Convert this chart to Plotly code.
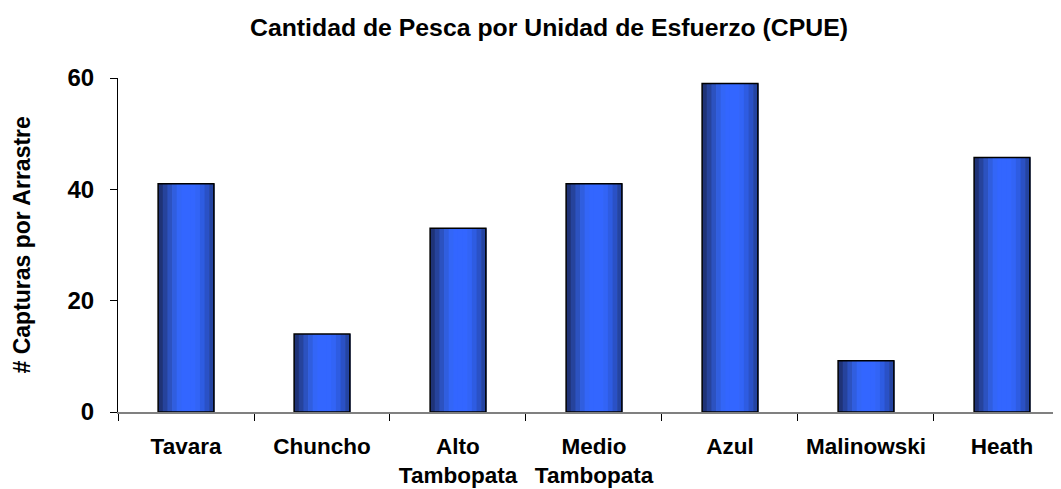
import plotly.graph_objects as go

categories = ["Tavara", "Chuncho", "Alto<br>Tambopata", "Medio<br>Tambopata", "Azul", "Malinowski", "Heath"]
cpue = [41, 14, 33, 41, 59, 9.2, 45.7]
y_ticks = [0, 20, 40, 60]

title_text = "Cantidad de Pesca por Unidad de Esfuerzo (CPUE)"
y_title = "# Capturas por Arrastre"

# horizontal gradient stops (approximation of the diagonal shaded bars)
grad_colors = ["#1f3377", "#26439c", "#2c52c0", "#305edf", "#3366f7", "#3366ff",
               "#3366ff", "#3366ff", "#3264f6", "#2e5ce2", "#2a51c6", "#2444a2"]

W, H = 1053, 481
L, T, B = 110, 70, 77
bar_w = 0.41
n = len(grad_colors)
sw = bar_w / n

fig = go.Figure()
for i, c in enumerate(grad_colors):
    fig.add_trace(go.Bar(
        x=categories, y=cpue,
        width=sw * 1.15, offset=-bar_w / 2 + i * sw,
        marker=dict(color=c, line=dict(width=0)),
        hoverinfo="skip", showlegend=False,
    ))
# outline
fig.add_trace(go.Bar(
    x=categories, y=cpue, width=bar_w,
    marker=dict(color="rgba(0,0,0,0)", line=dict(color="black", width=1.5)),
    hoverinfo="skip", showlegend=False,
))

fig.update_layout(
    width=W, height=H,
    barmode="overlay",
    plot_bgcolor="white", paper_bgcolor="white",
    margin=dict(l=L, r=0, t=T, b=B, autoexpand=False),
    font=dict(family="Liberation Sans, Arial, sans-serif", color="black"),
    title=dict(text=title_text, x=541 / W, xanchor="center", y=1 - 19 / H, yanchor="middle",
               yref="container", xref="container", font=dict(size=24.8, weight="bold")),
    annotations=[dict(
        text=y_title, textangle=-90, xref="paper", yref="paper",
        x=0, xshift=13.5 - L, y=0.5, xanchor="center", yanchor="middle",
        showarrow=False, font=dict(size=23, weight="bold"),
    )],
)
fig.update_xaxes(
    range=[-0.5, 6.434], showline=True, linecolor="#808080", linewidth=1.5,
    ticks="outside", tickson="boundaries", ticklen=7, tickcolor="black",
    tickfont=dict(size=22.5, weight="bold"), showgrid=False, ticklabelstandoff=13,
)
fig.update_yaxes(
    range=[0, 60], tickvals=y_ticks, showline=True, linecolor="black", linewidth=1,
    ticks="outside", ticklen=7, tickcolor="black", showgrid=False, zeroline=False,
    tickfont=dict(size=24, weight="bold"), ticklabelstandoff=11,
)

fig.write_html("out.html")
